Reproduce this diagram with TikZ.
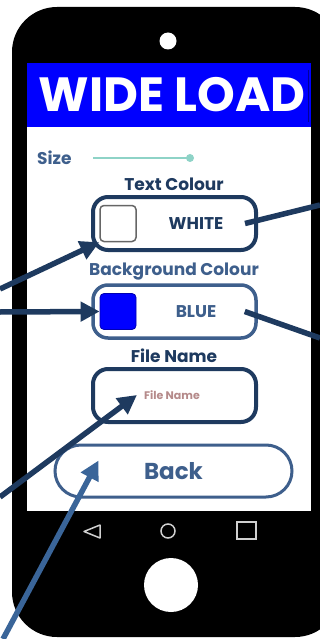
\documentclass[tikz,border=0pt]{standalone}
\usepackage{fontspec}
\setmainfont{Poppins}
\usepackage{tikz}
\usetikzlibrary{arrows.meta}

\definecolor{navy}{HTML}{1E3A5F}
\definecolor{steel}{HTML}{3E5F8C}
\definecolor{pale}{HTML}{3A6599}
\definecolor{slider}{HTML}{8ED3C7}
\definecolor{hint}{HTML}{B58A8A}
\definecolor{icon}{HTML}{D0D0D0}

\begin{document}
\begin{tikzpicture}[x=1pt,y=-1pt,>={Triangle[length=19pt,width=19pt]},
  label/.style={font=\bfseries\fontsize{17}{17}\selectfont,text=navy,inner sep=0},
  field/.style={draw=navy,line width=4,rounded corners=15,minimum width=163,minimum height=53},
  swatch/.style={rounded corners=4,minimum width=36,minimum height=36,inner sep=0},
  pointer/.style={draw=navy,line width=5.5}]
\useasboundingbox (0,0) rectangle (320,639);

% {Phone};
\fill[black,rounded corners=45] (12,7) rectangle (340,637);
\fill[white] (168,41) circle (8.5);
\fill[white] (27,63) rectangle (311,511);
\fill[blue] (27,63) rectangle (311,127);
\draw[color=blue!60!black,line width=1] (308,70) -- (308,122);

% {Screen};
\node[font=\bfseries\fontsize{48}{48}\selectfont,text=white,inner sep=0] (title) at (172,95) {WIDE LOAD};

\node[label,text=steel,anchor=west] (size) at (37,158) {Size};
\draw[slider,line width=1.5] (93,158) -- (190,158);
\fill[slider] (190,158) circle (4);

\node[label] (txtlbl) at (174,184) {Text Colour};
\node[field] (txtbtn) at (174.5,223.5) {};
\node[swatch,draw=gray!80!black,line width=1.5] (whitesq) at (118,223.5) {};
\node[label] (white) at (196,224) {WHITE};

\node[label,text=steel] (bglbl) at (174,272) {Background Colour};
\node[field,draw=steel,line width=3.5] (bgbtn) at (174.5,311.5) {};
\node[swatch,fill=blue,draw=blue!70!black,line width=0.8] (bluesq) at (118,311.5) {};
\node[label,text=steel] (bluetxt) at (196,312) {BLUE};

\node[label] (fnlbl) at (174,356) {File Name};
\node[field] (fnbtn) at (174.5,395.5) {};
\node[font=\bfseries\fontsize{11}{11}\selectfont,text=hint,inner sep=3] (fnph) at (172,395) {File Name};

\node[draw=steel,line width=3,rounded corners=26,minimum width=237,minimum height=52,
  font=\bfseries\fontsize{23}{23}\selectfont,text=steel] (back) at (173.5,471) {Back};

% {Nav bar};
\draw[icon,line width=1.5,line join=round] (100,525) -- (100,538) -- (84,531.5) -- cycle;
\draw[icon,line width=1.5] (168,531) circle (7);
\draw[icon,line width=1.5] (237,522) rectangle (256,539);
\fill[white] (171,585) circle (27);

% {Pointers};
\coordinate (a1) at (0,289);
\coordinate (a2) at (0,312);
\coordinate (a3) at (320,205);
\coordinate (a4) at (320,338);
\coordinate (a5) at (0,497);
\coordinate (a6) at (3,639);
\draw[pointer,->] (a1) -- (whitesq.south west);
\draw[pointer,->] (a2) -- (bluesq.west);
\draw[pointer] (a3) -- ([xshift=-13]txtbtn.east);
\draw[pointer] (a4) -- ([xshift=-13]bgbtn.east);
\draw[pointer,->] (a5) -- ([xshift=-4]fnph.west);
\draw[pointer,draw=pale,->] (a6) -- ([shift={(45,17)}]back.north west);
\end{tikzpicture}
\end{document}
